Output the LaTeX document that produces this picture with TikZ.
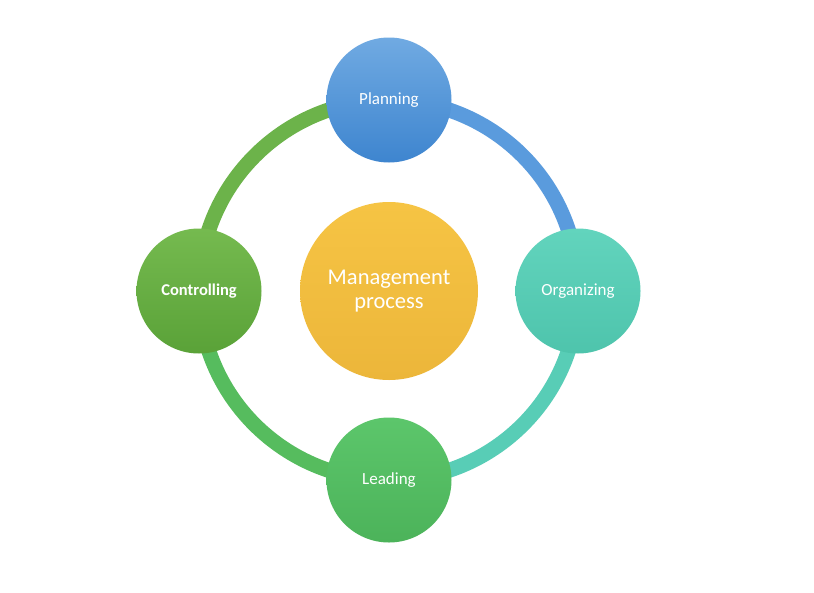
\documentclass[tikz,border=0pt]{standalone}
\usepackage{fontspec}
\setmainfont{Carlito}
\begin{document}
\begin{tikzpicture}[x=1pt,y=1pt,
  ring/.style={line width=15pt},
  bubble/.style={circle, minimum size=125pt, inner sep=0pt, text=white, font=\fontsize{17}{20}\selectfont, align=center},
  hub/.style={circle, minimum size=178pt, inner sep=0pt, text=white, font=\fontsize{22.5}{24}\selectfont, align=center}
]
\definecolor{planT}{HTML}{70AAE2}
\definecolor{planB}{HTML}{3E85CF}
\definecolor{orgT}{HTML}{62D4BD}
\definecolor{orgB}{HTML}{4EC4AC}
\definecolor{leadT}{HTML}{5CC66B}
\definecolor{leadB}{HTML}{4CB35A}
\definecolor{ctrlT}{HTML}{75BA4F}
\definecolor{ctrlB}{HTML}{5AA238}
\definecolor{hubT}{HTML}{F6C444}
\definecolor{hubB}{HTML}{ECB63A}
\definecolor{arcTR}{HTML}{5A9BDD}
\definecolor{arcBR}{HTML}{58CDB6}
\definecolor{arcBL}{HTML}{56BC5E}
\definecolor{arcTL}{HTML}{6CB34A}
\fill[white] (0,0) rectangle (814,-592);
\useasboundingbox (0,0) rectangle (814,-592);
\coordinate (pc) at (389,-100);
\coordinate (oc) at (578,-291);
\coordinate (lc) at (389,-480);
\coordinate (cc) at (199,-291);
\draw[ring, arcTR] (pc) to[bend left=45] (oc);
\draw[ring, arcBR] (oc) to[bend left=45] (lc);
\draw[ring, arcBL] (lc) to[bend left=45] (cc);
\draw[ring, arcTL] (cc) to[bend left=45] (pc);
\node[hub, top color=hubT, bottom color=hubB] (hub) at (389,-291) {Management\\[0pt]process};
\node[bubble, top color=planT, bottom color=planB] (plan) at (pc) {Planning};
\node[bubble, top color=orgT, bottom color=orgB] (org) at (oc) {Organizing};
\node[bubble, top color=leadT, bottom color=leadB] (lead) at (lc) {Leading};
\node[bubble, top color=ctrlT, bottom color=ctrlB, font=\fontsize{16.5}{20}\selectfont\bfseries] (ctrl) at (cc) {Controlling};
\end{tikzpicture}
\end{document}
